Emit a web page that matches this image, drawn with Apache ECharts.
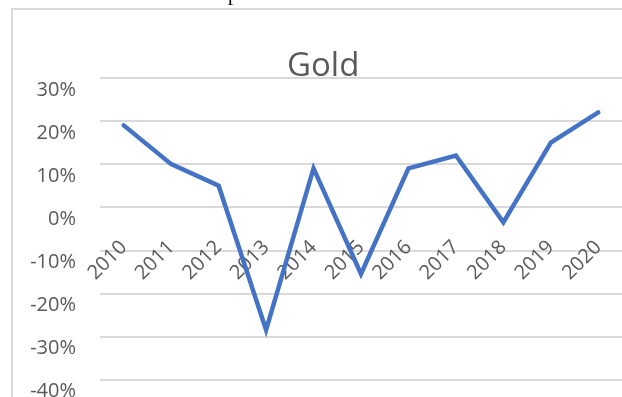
<!DOCTYPE html>
<html>
<head>
<meta charset="utf-8">
<style>
  html, body { margin: 0; padding: 0; background: #ffffff; }
  #chart { width: 622px; height: 397px; }
</style>
<script src="https://cdn.jsdelivr.net/npm/echarts@6/dist/echarts.min.js"></script>
</head>
<body>
<div id="chart"></div>
<script>
// Annual gold return, percent
const years = ['2010', '2011', '2012', '2013', '2014', '2015', '2016', '2017', '2018', '2019', '2020'];
const goldReturn = [19, 10, 5, -28.5, 9, -15.5, 9, 12, -3.5, 15, 22];
const yTicks = { min: -40, max: 30, step: 10 };

const chart = echarts.init(document.getElementById('chart'), null, { renderer: 'canvas' });
const labelFont = '"Open Sans", "Liberation Sans", sans-serif';

chart.setOption({
  animation: false,
  backgroundColor: '#ffffff',
  title: {
    text: 'Gold',
    left: 287,
    top: 50,
    padding: 0,
    textStyle: { fontFamily: labelFont, fontSize: 33, fontWeight: 'normal', color: '#595959' }
  },
  graphic: [
    {
      type: 'rect',
      shape: { x: 12, y: 9, width: 640, height: 420 },
      style: { fill: 'none', stroke: '#d9d9d9', lineWidth: 2 },
      silent: true
    },
    {
      type: 'text',
      x: 228,
      y: 5,
      style: {
        text: 'p',
        font: '20px "Liberation Serif", serif',
        fill: '#000000',
        verticalAlign: 'bottom'
      },
      silent: true
    }
  ],
  grid: { left: 100, right: 0, top: 78, bottom: 17.5, containLabel: false, outerBoundsMode: 'none' },
  xAxis: {
    type: 'category',
    data: years,
    boundaryGap: true,
    axisLine: { show: false, onZero: false },
    axisTick: { show: false },
    axisLabel: {
      rotate: 45,
      margin: 37,
      interval: 0,
      fontFamily: labelFont,
      fontSize: 20,
      color: '#595959'
    }
  },
  yAxis: {
    type: 'value',
    min: yTicks.min,
    max: yTicks.max,
    interval: yTicks.step,
    axisLine: { show: false },
    axisTick: { show: false },
    axisLabel: {
      formatter: '{value}%',
      margin: 24,
      verticalAlign: 'top',
      padding: [2, 0, 0, 0],
      fontFamily: labelFont,
      fontSize: 20,
      color: '#595959'
    },
    splitLine: { lineStyle: { color: '#d9d9d9', width: 2 } }
  },
  series: [{
    type: 'line',
    data: goldReturn,
    symbol: 'none',
    lineStyle: { color: '#4472c4', width: 4.5, cap: 'round', join: 'miter' },
    z: 3
  }]
});

// Category labels sit along the zero line: shift the x axis up from the
// bottom edge of the grid to where the value scale puts 0.
const zeroY = chart.convertToPixel({ yAxisIndex: 0 }, 0);
const bottomY = chart.convertToPixel({ yAxisIndex: 0 }, yTicks.min);
chart.setOption({ xAxis: { offset: zeroY - bottomY } });
</script>
</body>
</html>
